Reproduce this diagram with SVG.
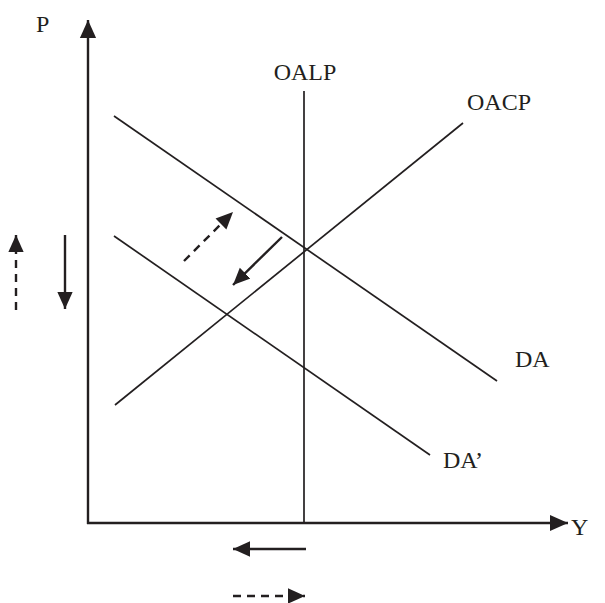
<svg xmlns="http://www.w3.org/2000/svg" width="605" height="603" viewBox="0 0 605 603">
<defs>
<marker id="ah" viewBox="0 0 10 10" refX="10" refY="5" markerWidth="18" markerHeight="18" markerUnits="userSpaceOnUse" orient="auto"><path d="M0,0.5 L10,5 L0,9.5 z" fill="#231f20"/></marker>
<marker id="ahs" viewBox="0 0 10 10" refX="10" refY="5" markerWidth="17" markerHeight="17" markerUnits="userSpaceOnUse" orient="auto"><path d="M0,0.5 L10,5 L0,9.5 z" fill="#231f20"/></marker>
</defs>
<style>
.ax{stroke:#231f20;stroke-width:2.4;fill:none}
.ln{stroke:#231f20;stroke-width:1.7;fill:none}
.ar{stroke:#231f20;stroke-width:2.4;fill:none}
.da{stroke-dasharray:8,6}
text{font-family:"Liberation Serif","Times New Roman",serif;font-size:24px;fill:#231f20}
</style>
<rect width="605" height="603" fill="#fff"/>
<g id="connectors">
<line id="y-axis" class="ax" x1="88" y1="524" x2="88" y2="20" marker-end="url(#ah)"/>
<line id="x-axis" class="ax" x1="87" y1="523" x2="568" y2="523" marker-end="url(#ah)"/>
<line id="oalp" class="ln" x1="304" y1="91" x2="304" y2="523"/>
<line id="oacp" class="ln" x1="115" y1="405" x2="463" y2="123"/>
<line id="da" class="ln" x1="114" y1="116" x2="497" y2="381"/>
<line id="da2" class="ln" x1="114" y1="236" x2="430" y2="455"/>
<line class="ar" x1="282" y1="237" x2="233" y2="285" marker-end="url(#ahs)"/>
<line class="ar da" x1="184" y1="261" x2="233" y2="212" marker-end="url(#ahs)"/>
<line class="ar da" x1="16" y1="310" x2="16" y2="235" marker-end="url(#ahs)"/>
<line class="ar" x1="65" y1="235" x2="65" y2="309" marker-end="url(#ahs)"/>
<line class="ar" x1="306" y1="549" x2="233" y2="549" marker-end="url(#ahs)"/>
<line class="ar da" x1="233" y1="596" x2="305" y2="596" marker-end="url(#ahs)"/>
</g>
<g id="label-p"><text x="36" y="32">P</text></g>
<g id="label-y"><text x="571" y="535">Y</text></g>
<g id="label-oalp"><text x="305" y="80" text-anchor="middle">OALP</text></g>
<g id="label-oacp"><text x="467" y="110">OACP</text></g>
<g id="label-da"><text x="515" y="367">DA</text></g>
<g id="label-da2"><text x="443" y="468">DA’</text></g>
</svg>
